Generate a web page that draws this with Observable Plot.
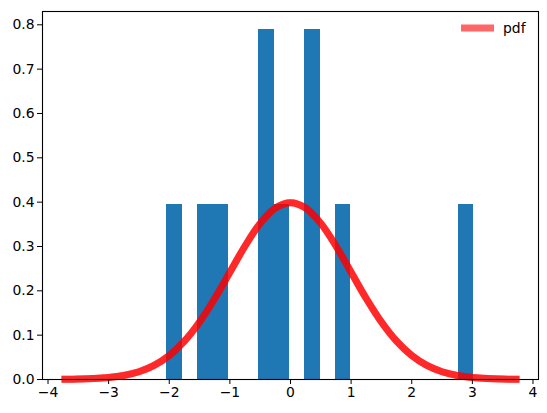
<!DOCTYPE html>
<html>
<head>
<meta charset="utf-8">
<script src="https://cdn.jsdelivr.net/npm/d3@7"></script>
<script src="https://cdn.jsdelivr.net/npm/@observablehq/plot@0.6"></script>
<style>
  html, body { margin: 0; padding: 0; background: white; }
</style>
</head>
<body>
<div id="chart"></div>
<script>
// Histogram bins (density=True, 20 bins, 10 samples)
const binStart = [-2.040, -1.787, -1.534, -1.281, -1.028, -0.775, -0.522, -0.269, -0.016, 0.237,
                  0.490, 0.743, 0.996, 1.249, 1.502, 1.755, 2.008, 2.261, 2.514, 2.766];
const binEnd   = [-1.787, -1.534, -1.281, -1.028, -0.775, -0.522, -0.269, -0.016, 0.237, 0.490,
                  0.743, 0.996, 1.249, 1.502, 1.755, 2.008, 2.261, 2.514, 2.766, 3.019];
const density  = [0.395, 0, 0.395, 0.395, 0, 0, 0.790, 0.395, 0, 0.790,
                  0, 0.395, 0, 0, 0, 0, 0, 0, 0, 0.395];

// pdf curve samples
const curveX = [-3.72, -3.5, -3.25, -3.0, -2.75, -2.5, -2.25, -2.0, -1.75, -1.5, -1.25, -1.0, -0.75, -0.5, -0.25, 0,
                0.25, 0.5, 0.75, 1.0, 1.25, 1.5, 1.75, 2.0, 2.25, 2.5, 2.75, 3.0, 3.25, 3.5, 3.72];
const curveY = [0.0004, 0.0009, 0.0020, 0.0044, 0.0091, 0.0175, 0.0317, 0.0540, 0.0863, 0.1295, 0.1826, 0.2420, 0.3011, 0.3521, 0.3867, 0.3989,
                0.3867, 0.3521, 0.3011, 0.2420, 0.1826, 0.1295, 0.0863, 0.0540, 0.0317, 0.0175, 0.0091, 0.0044, 0.0020, 0.0009, 0.0004];

const xTicks = [-4, -3, -2, -1, 0, 1, 2, 3, 4];
const yTicks = [0, 0.1, 0.2, 0.3, 0.4, 0.5, 0.6, 0.7, 0.8];
const legendLabel = "pdf";

const bins = binStart.map((s, i) => ({x1: s, x2: binEnd[i], density: density[i]})).filter(d => d.density > 0);
const curve = curveX.map((x, i) => ({x, y: curveY[i]}));

const lineOpts = {x: "x", y: "y", stroke: "red", strokeWidth: 7, strokeOpacity: 0.6, curve: "catmull-rom", strokeLinecap: "square"};

const chart = Plot.plot({
  width: 547,
  height: 413,
  marginLeft: 42,
  marginRight: 9,
  marginTop: 11,
  marginBottom: 34,
  style: {fontFamily: "DejaVu Sans", fontSize: "13.9px", color: "black", background: "white"},
  x: {domain: [-4.091, 4.091]},
  y: {domain: [0, 0.83]},
  marks: [
    Plot.rectY(bins, {x1: "x1", x2: "x2", y: "density", fill: "#1f77b4", shapeRendering: "crispEdges"}),
    Plot.line(curve, lineOpts),
    Plot.line(curve, lineOpts),
    Plot.frame({stroke: "black", strokeWidth: 1.1}),
    Plot.axisX({ticks: xTicks, tickSize: 5, tickPadding: 3, tickFormat: d3.format("d"), label: null}),
    Plot.axisY({ticks: yTicks, tickSize: 5, tickPadding: 3, tickFormat: d3.format(".1f"), label: null})
  ]
});

document.getElementById("chart").appendChild(chart);

// Legend (top right, no frame)
const svg = d3.select(chart);
const lg = svg.append("g").attr("text-anchor", "start");
lg.append("line")
  .attr("x1", 461).attr("x2", 494).attr("y1", 28).attr("y2", 28)
  .attr("stroke", "red").attr("stroke-opacity", 0.6).attr("stroke-width", 7);
lg.append("text")
  .attr("x", 503).attr("y", 28).attr("dy", "0.35em")
  .attr("text-anchor", "start")
  .attr("font-family", "DejaVu Sans").attr("font-size", "13.9px").attr("fill", "black")
  .text(legendLabel);
</script>
</body>
</html>
